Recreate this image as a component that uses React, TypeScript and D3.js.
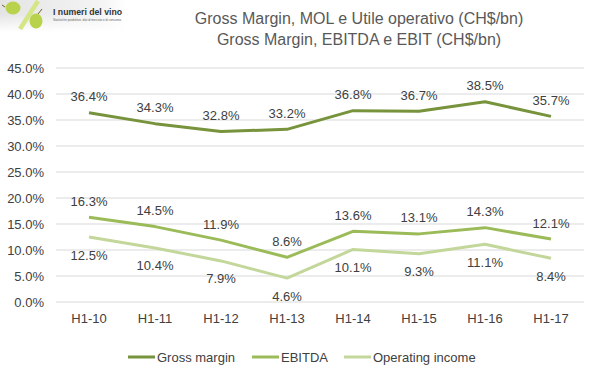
import React from "react";
import * as d3 from "d3";

const categories = ["H1-10", "H1-11", "H1-12", "H1-13", "H1-14", "H1-15", "H1-16", "H1-17"];
const grossMargin = [36.4, 34.3, 32.8, 33.2, 36.8, 36.7, 38.5, 35.7];
const ebitda = [16.3, 14.5, 11.9, 8.6, 13.6, 13.1, 14.3, 12.1];
const operatingIncome = [12.5, 10.4, 7.9, 4.6, 10.1, 9.3, 11.1, 8.4];
const yTicks = [0, 5, 10, 15, 20, 25, 30, 35, 40, 45];
const seriesNames = ["Gross margin", "EBITDA", "Operating income"];
const titleLines = ["Gross Margin, MOL e Utile operativo (CH$/bn)", "Gross Margin, EBITDA e EBIT (CH$/bn)"];

const W = 599, H = 378;
const FONT = "'Liberation Sans', Arial, sans-serif";
const TXT = "#404040";

export default function App() {
  const x = d3.scaleBand<string>().domain(categories).range([56, 584]);
  const y = d3.scaleLinear().domain([0, 45]).range([302, 68]);
  const cx = (c: string) => (x(c) as number) + x.bandwidth() / 2;
  const series = [
    { name: seriesNames[0], values: grossMargin, color: "#77933C", labelDy: -16 },
    { name: seriesNames[1], values: ebitda, color: "#9BBB59", labelDy: -16 },
    { name: seriesNames[2], values: operatingIncome, color: "#C4D79B", labelDy: 18 },
  ];
  const line = d3.line<number>().x((_, i) => cx(categories[i])).y((v) => y(v));
  const legendX = [128, 252, 344];

  return (
    <svg width={W} height={H} style={{ position: "absolute", left: 0, top: 0, background: "#fff" }} fontFamily={FONT}>
      <defs>
        <linearGradient id="logoBg" x1="0" y1="0" x2="1" y2="0">
          <stop offset="0" stopColor="#e4e4e4" />
          <stop offset="0.8" stopColor="#f4f4f4" />
          <stop offset="1" stopColor="#ffffff" />
        </linearGradient>
        <linearGradient id="logoFade" x1="0" y1="0" x2="0" y2="1">
          <stop offset="0" stopColor="#fff" stopOpacity="0" />
          <stop offset="1" stopColor="#fff" stopOpacity="1" />
        </linearGradient>
      </defs>
      {/* logo */}
      <rect x={0} y={0} width={126} height={32} fill="url(#logoBg)" />
      <rect x={0} y={14} width={126} height={18} fill="url(#logoFade)" />
      <line x1={20} y1={29} x2={38} y2={1} stroke="#d4e686" strokeWidth={4.5} />
      <ellipse cx={13} cy={8} rx={7.5} ry={6.5} fill="#b8d24c" />
      <ellipse cx={36} cy={21} rx={6.5} ry={7.5} fill="#b8d24c" />
      <line x1={38} y1={14} x2={42} y2={9} stroke="#7a5a2a" strokeWidth={1} />
      <line x1={5} y1={7} x2={2} y2={5} stroke="#7a5a2a" strokeWidth={1} />
      <text x={53} y={15} fontSize={8.7} fontWeight="bold" fill="#333">I numeri del vino</text>
      <text x={53} y={20.5} fontSize={3} fill="#666">Statistiche produttive, dati di mercato e di consumo.</text>

      {/* title */}
      {titleLines.map((t, i) => (
        <text key={i} x={359} y={24 + i * 21} textAnchor="middle" fontSize={16} fill="#595959">{t}</text>
      ))}

      {/* grid */}
      {yTicks.map((t) => (
        <g key={t}>
          <line x1={56} x2={584} y1={y(t)} y2={y(t)} stroke="#d9d9d9" strokeWidth={1} />
          <text x={44} y={y(t)} dy="0.35em" textAnchor="end" fontSize={13} fill={TXT}>{t.toFixed(1)}%</text>
        </g>
      ))}
      {categories.map((c) => (
        <text key={c} x={cx(c)} y={318} dy="0.35em" textAnchor="middle" fontSize={13} fill={TXT}>{c}</text>
      ))}

      {/* lines */}
      {series.map((s) => (
        <path key={s.name} d={line(s.values) || ""} fill="none" stroke={s.color} strokeWidth={3} strokeLinejoin="round" />
      ))}
      {series.map((s) =>
        s.values.map((v, i) => (
          <text key={s.name + i} x={cx(categories[i])} y={y(v) + s.labelDy} dy="0.35em" textAnchor="middle" fontSize={13} fill={TXT}>
            {v.toFixed(1)}%
          </text>
        ))
      )}

      {/* legend */}
      {series.map((s, i) => (
        <g key={s.name}>
          <line x1={legendX[i]} x2={legendX[i] + 27} y1={357} y2={357} stroke={s.color} strokeWidth={3} />
          <text x={legendX[i] + 29} y={357} dy="0.35em" fontSize={13} fill={TXT}>{s.name}</text>
        </g>
      ))}
    </svg>
  );
}
